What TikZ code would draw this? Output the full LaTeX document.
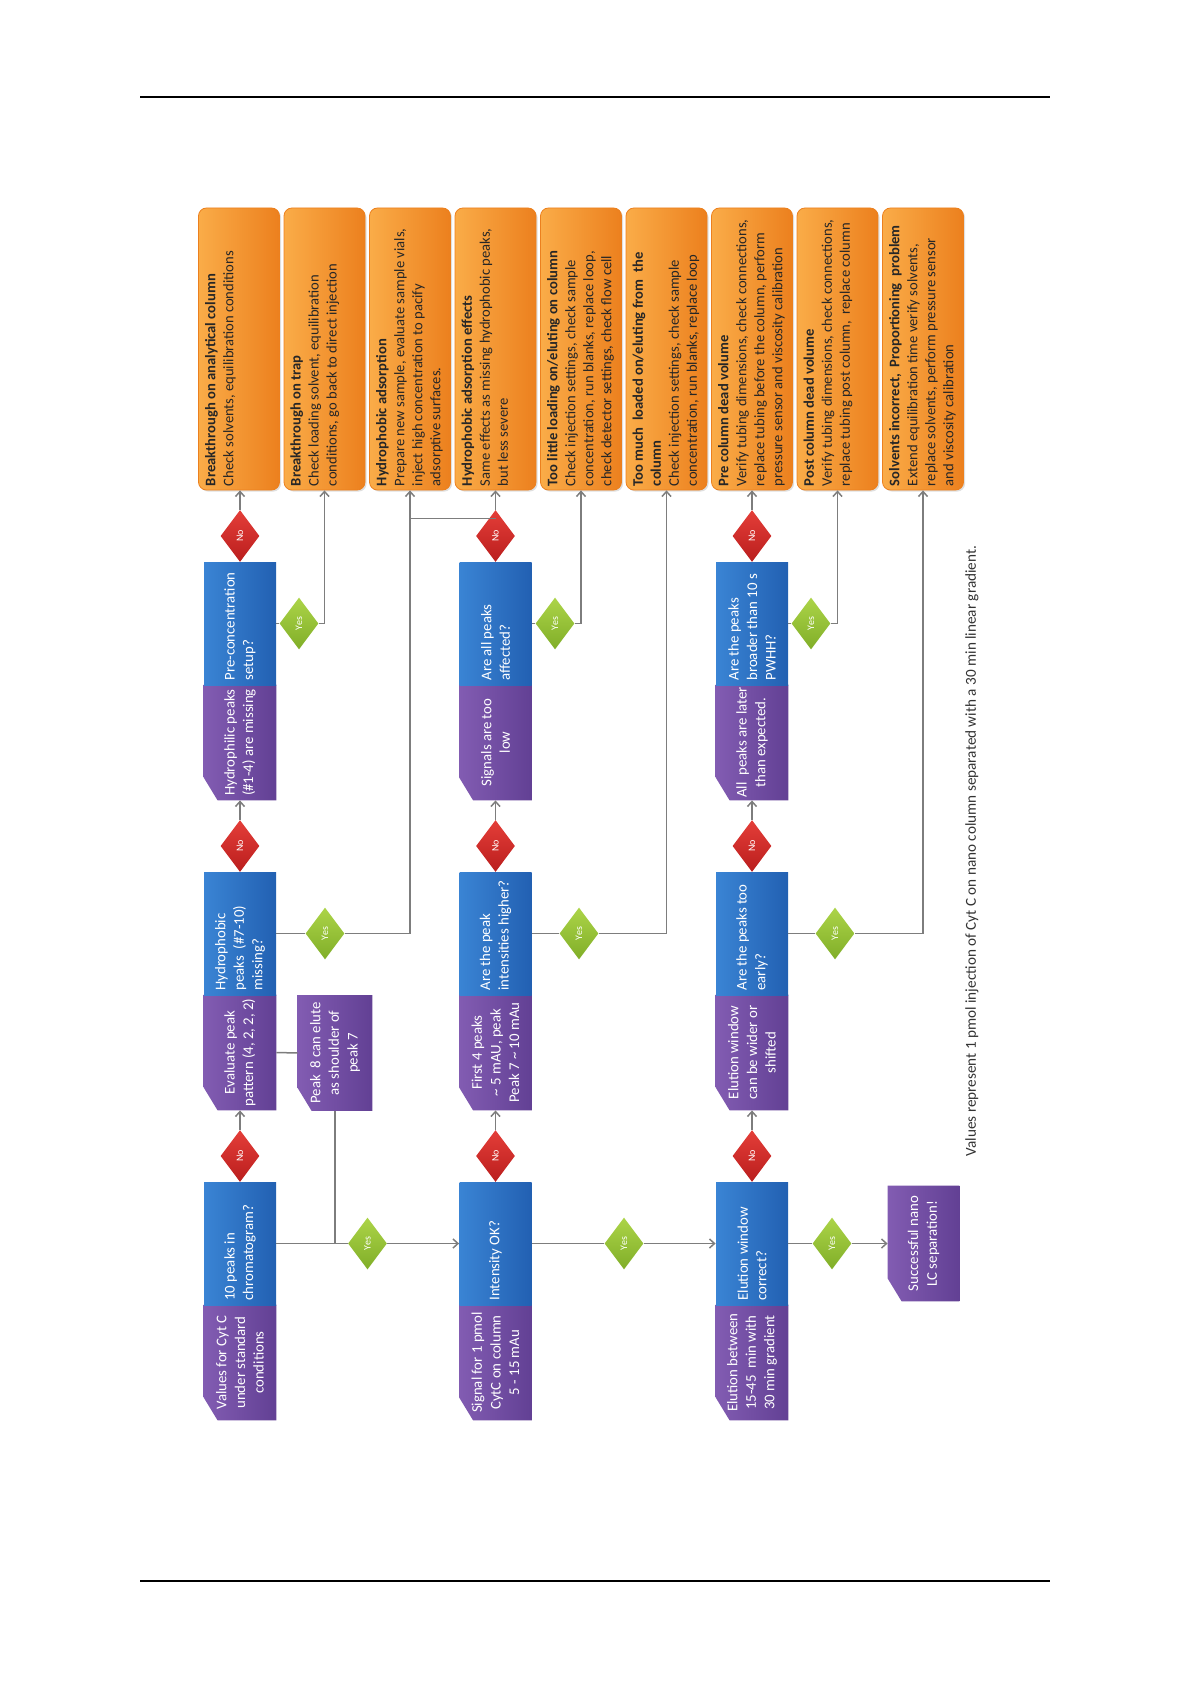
\documentclass[tikz,border=0pt]{standalone}
\usepackage{fontspec}
\setmainfont{Carlito}
\usepackage{graphicx}
\usetikzlibrary{shapes.geometric,arrows.meta,shadows,backgrounds,calc}
\definecolor{orgL}{RGB}{250,172,72}
\definecolor{orgD}{RGB}{236,128,30}
\definecolor{bluL}{RGB}{58,132,212}
\definecolor{bluD}{RGB}{34,96,178}
\definecolor{purL}{RGB}{130,92,178}
\definecolor{purD}{RGB}{98,64,148}
\definecolor{redL}{RGB}{228,62,56}
\definecolor{redD}{RGB}{186,30,30}
\definecolor{grnL}{RGB}{172,212,72}
\definecolor{grnD}{RGB}{128,174,40}
\definecolor{lineGray}{RGB}{125,125,125}
\newcommand{\orgtxt}[2]{\rotatebox{90}{\parbox[c][34pt][t]{137pt}{\raggedright\textbf{#1}\\#2}}}
\newcommand{\blutxt}[1]{\rotatebox{90}{\parbox{57pt}{\raggedright #1}}}
\newcommand{\purtxt}[1]{\rotatebox{90}{\parbox{56pt}{\centering #1}}}
\begin{document}
\begin{tikzpicture}[x=0.5pt,y=-0.5pt,
  orgbox/.style={rectangle, rounded corners=4pt, minimum width=40.5pt, minimum height=141pt, inner sep=0pt,
    left color=orgL, right color=orgD, draw=orgD, line width=0.4pt, text=black!85,
    font=\fontsize{7.3}{9}\selectfont, drop shadow={shadow xshift=0.8pt, shadow yshift=-0.8pt, opacity=0.25}},
  blubox/.style={rectangle, minimum width=36pt, minimum height=61.5pt, inner sep=0pt,
    left color=bluL, right color=bluD, text=white, font=\fontsize{7.4}{9.3}\selectfont},
  purbox/.style={rectangle, minimum width=36pt, minimum height=57.5pt, inner sep=0pt,
    text=white, font=\fontsize{7.4}{9.3}\selectfont},
  nodia/.style={diamond, minimum width=19.5pt, minimum height=26pt, inner sep=0pt,
    top color=redL, bottom color=redD, text=white, font=\fontsize{5}{6}\selectfont},
  yesdia/.style={diamond, minimum width=19.5pt, minimum height=26pt, inner sep=0pt,
    top color=grnL, bottom color=grnD, text=white, font=\fontsize{5}{6}\selectfont},
  conn/.style={draw=lineGray, line width=0.75pt},
  arr/.style={conn, -{Straight Barb[length=2.5pt,width=4.5pt]}}
]
\useasboundingbox (0,0) rectangle (1191,1684);
% header and footer rules
\draw[line width=0.7pt] (140,97) -- (1050,97);
\draw[line width=0.7pt] (140,1581) -- (1050,1581);

% orange result boxes
\node[orgbox] (o1) at (239,349) {\orgtxt{Breakthrough on analytical column}{Check solvents, equilibration conditions}};
\node[orgbox] (o2) at (324.5,349) {\orgtxt{Breakthrough on trap}{Check loading solvent, equilibration\\conditions, go back to direct injection}};
\node[orgbox] (o3) at (410,349) {\orgtxt{Hydrophobic adsorption}{Prepare new sample, evaluate sample vials,\\inject high concentration to pacify\\adsorptive surfaces.}};
\node[orgbox] (o4) at (495.5,349) {\orgtxt{Hydrophobic adsorption effects}{Same effects as missing hydrophobic peaks,\\but less severe}};
\node[orgbox] (o5) at (581,349) {\orgtxt{Too little loading on/eluting on column}{Check injection settings, check sample\\concentration, run blanks, replace loop,\\check detector settings, check flow cell}};
\node[orgbox] (o6) at (666.5,349) {\orgtxt{Too much\ \ loaded on/eluting from\ \ the\\column}{Check injection settings, check sample\\concentration, run blanks, replace loop}};
\node[orgbox] (o7) at (752,349) {\orgtxt{Pre column dead volume}{Verify tubing dimensions, check connections,\\replace tubing before the column, perform\\pressure sensor and viscosity calibration}};
\node[orgbox] (o8) at (837.5,349) {\orgtxt{Post column dead volume}{Verify tubing dimensions, check connections,\\replace tubing post column,\ \ replace column}};
\node[orgbox] (o9) at (923,349) {\orgtxt{Solvents incorrect,\ \ Proportioning\ \ problem}{Extend equilibration time verify solvents,\\replace solvents, perform pressure sensor\\and viscosity calibration}};

% column A
\node[blubox] (bA1) at (240,1243.5) {\blutxt{10 peaks in\\chromatogram?}};
\node[purbox] (pA1) at (240,1362.5) {\purtxt{Values for Cyt C\\under standard\\conditions}};
\node[blubox] (bA2) at (240,933.5) {\blutxt{Hydrophobic\\peaks\ \ (\#7-10)\\missing?}};
\node[purbox] (pA2) at (240,1052.5) {\purtxt{Evaluate peak\\pattern (4, 2, 2, 2)}};
\node[blubox] (bA3) at (240,623.5) {\blutxt{Pre-concentration\\setup?}};
\node[purbox] (pA3) at (240,742.5) {\purtxt{Hydrophilic peaks\\(\#1-4) are missing}};
\node[purbox, minimum width=37pt] (pk8) at (335,1053) {\purtxt{Peak\ \ 8 can elute\\as shoulder of\\peak 7}};

% column B
\node[blubox] (bB1) at (495.5,1243.5) {\blutxt{Intensity OK?}};
\node[purbox] (pB1) at (495.5,1362.5) {\purtxt{Signal for 1 pmol\\CytC on column\\5 - 15 mAu}};
\node[blubox] (bB2) at (495.5,933.5) {\blutxt{Are the peak\\intensities higher?}};
\node[purbox] (pB2) at (495.5,1052.5) {\purtxt{First 4 peaks\\\textasciitilde{} 5 mAU, peak\\Peak 7 \textasciitilde{} 10 mAu}};
\node[blubox] (bB3) at (495.5,623.5) {\blutxt{Are all peaks\\affected?}};
\node[purbox] (pB3) at (495.5,742.5) {\purtxt{Signals are too\\low}};

% column C
\node[blubox] (bC1) at (752,1243.5) {\blutxt{Elution window\\correct?}};
\node[purbox] (pC1) at (752,1362.5) {\purtxt{Elution between\\15-45\ \ min with\\30 min gradient}};
\node[blubox] (bC2) at (752,933.5) {\blutxt{Are the peaks too\\early?}};
\node[purbox] (pC2) at (752,1052.5) {\purtxt{Elution window\\can be wider or\\shifted}};
\node[blubox] (bC3) at (752,623.5) {\blutxt{Are the peaks\\broader than 10 s\\PWHH?}};
\node[purbox] (pC3) at (752,742.5) {\purtxt{All\ \ peaks are later\\than expected.}};
\node[purbox, minimum width=35.5pt] (succ) at (923.5,1243.5) {\purtxt{Successful nano\\LC separation!}};

% purple chamfered fills (behind text)
\begin{scope}[on background layer]
\foreach \n in {pA1,pA2,pA3,pB1,pB2,pB3,pC1,pC2,pC3,pk8,succ}{
  \shade[left color=purL, right color=purD] (\n.north west) -- (\n.north east) -- (\n.south east)
    -- ([xshift=7pt]\n.south west) -- ([yshift=11.5pt]\n.south west) -- cycle;
}
\end{scope}

% No diamonds
\node[nodia] (nA1) at (240,1156) {\rotatebox{90}{No}};
\node[nodia] (nA2) at (240,846) {\rotatebox{90}{No}};
\node[nodia] (nA3) at (240,536) {\rotatebox{90}{No}};
\node[nodia] (nB1) at (495.5,1156) {\rotatebox{90}{No}};
\node[nodia] (nB2) at (495.5,846) {\rotatebox{90}{No}};
\node[nodia] (nB3) at (495.5,536) {\rotatebox{90}{No}};
\node[nodia] (nC1) at (752,1156) {\rotatebox{90}{No}};
\node[nodia] (nC2) at (752,846) {\rotatebox{90}{No}};
\node[nodia] (nC3) at (752,536) {\rotatebox{90}{No}};

% Yes diamonds
\node[yesdia] (yA1) at (367.5,1243.5) {\rotatebox{90}{Yes}};
\node[yesdia] (yB1) at (624,1243.5) {\rotatebox{90}{Yes}};
\node[yesdia] (yC1) at (832,1243.5) {\rotatebox{90}{Yes}};
\node[yesdia] (yA2) at (325,933.5) {\rotatebox{90}{Yes}};
\node[yesdia] (yB2) at (579,933.5) {\rotatebox{90}{Yes}};
\node[yesdia] (yC2) at (835,933.5) {\rotatebox{90}{Yes}};
\node[yesdia] (yA3) at (299,623.5) {\rotatebox{90}{Yes}};
\node[yesdia] (yB3) at (555,623.5) {\rotatebox{90}{Yes}};
\node[yesdia] (yC3) at (811,623.5) {\rotatebox{90}{Yes}};

% No connectors
\draw[arr] (nA1.north) -- (pA2.south);
\draw[arr] (nA2.north) -- (pA3.south);
\draw[arr] (nA3.north) -- (nA3.north |- o1.south);
\draw[arr] (nB1.north) -- (pB2.south);
\draw[arr] (nB2.north) -- (pB3.south);
\draw[arr] (nB3.north) -- (o4.south);
\draw[arr] (nC1.north) -- (pC2.south);
\draw[arr] (nC2.north) -- (pC3.south);
\draw[arr] (nC3.north) -- (o7.south);
\coordinate (jB) at ($(o4.south)+(0,28)$);
\coordinate (jA) at ($(o3.south)+(0,28)$);
\draw[conn] (jB) -- (jA);

% Yes connectors
\draw[conn] (bA1.east) -- (yA1.west);
\draw[arr] (yA1.east) -- (bB1.west);
\draw[conn] (bB1.east) -- (yB1.west);
\draw[arr] (yB1.east) -- (bC1.west);
\draw[conn] (bC1.east) -- (yC1.west);
\draw[arr] (yC1.east) -- (succ.west);
\draw[conn] (bA2.east) -- (yA2.west);
\draw[arr] (yA2.east) -| (o3.south);
\draw[conn] (bB2.east) -- (yB2.west);
\draw[arr] (yB2.east) -| (o6.south);
\draw[conn] (bC2.east) -- (yC2.west);
\draw[arr] (yC2.east) -| (o9.south);
\draw[conn] (bA3.east) -- (yA3.west);
\draw[arr] (yA3.east) -| (o2.south);
\draw[conn] (bB3.east) -- (yB3.west);
\draw[arr] (yB3.east) -| (o5.south);
\draw[conn] (bC3.east) -- (yC3.west);
\draw[arr] (yC3.east) -| (o8.south);

% Peak 8 side note
\draw[conn] (pA2.east) -- (pk8.west);
\draw[conn] (pk8.south) -- (pk8.south |- bA1.east);

% footnote
\node[rotate=90, text=black!80, font=\fontsize{7.6}{9}\selectfont] (note) at (972,851)
  {Values represent 1 pmol injection of Cyt C on nano column separated with a 30 min linear gradient.};
\end{tikzpicture}
\end{document}
